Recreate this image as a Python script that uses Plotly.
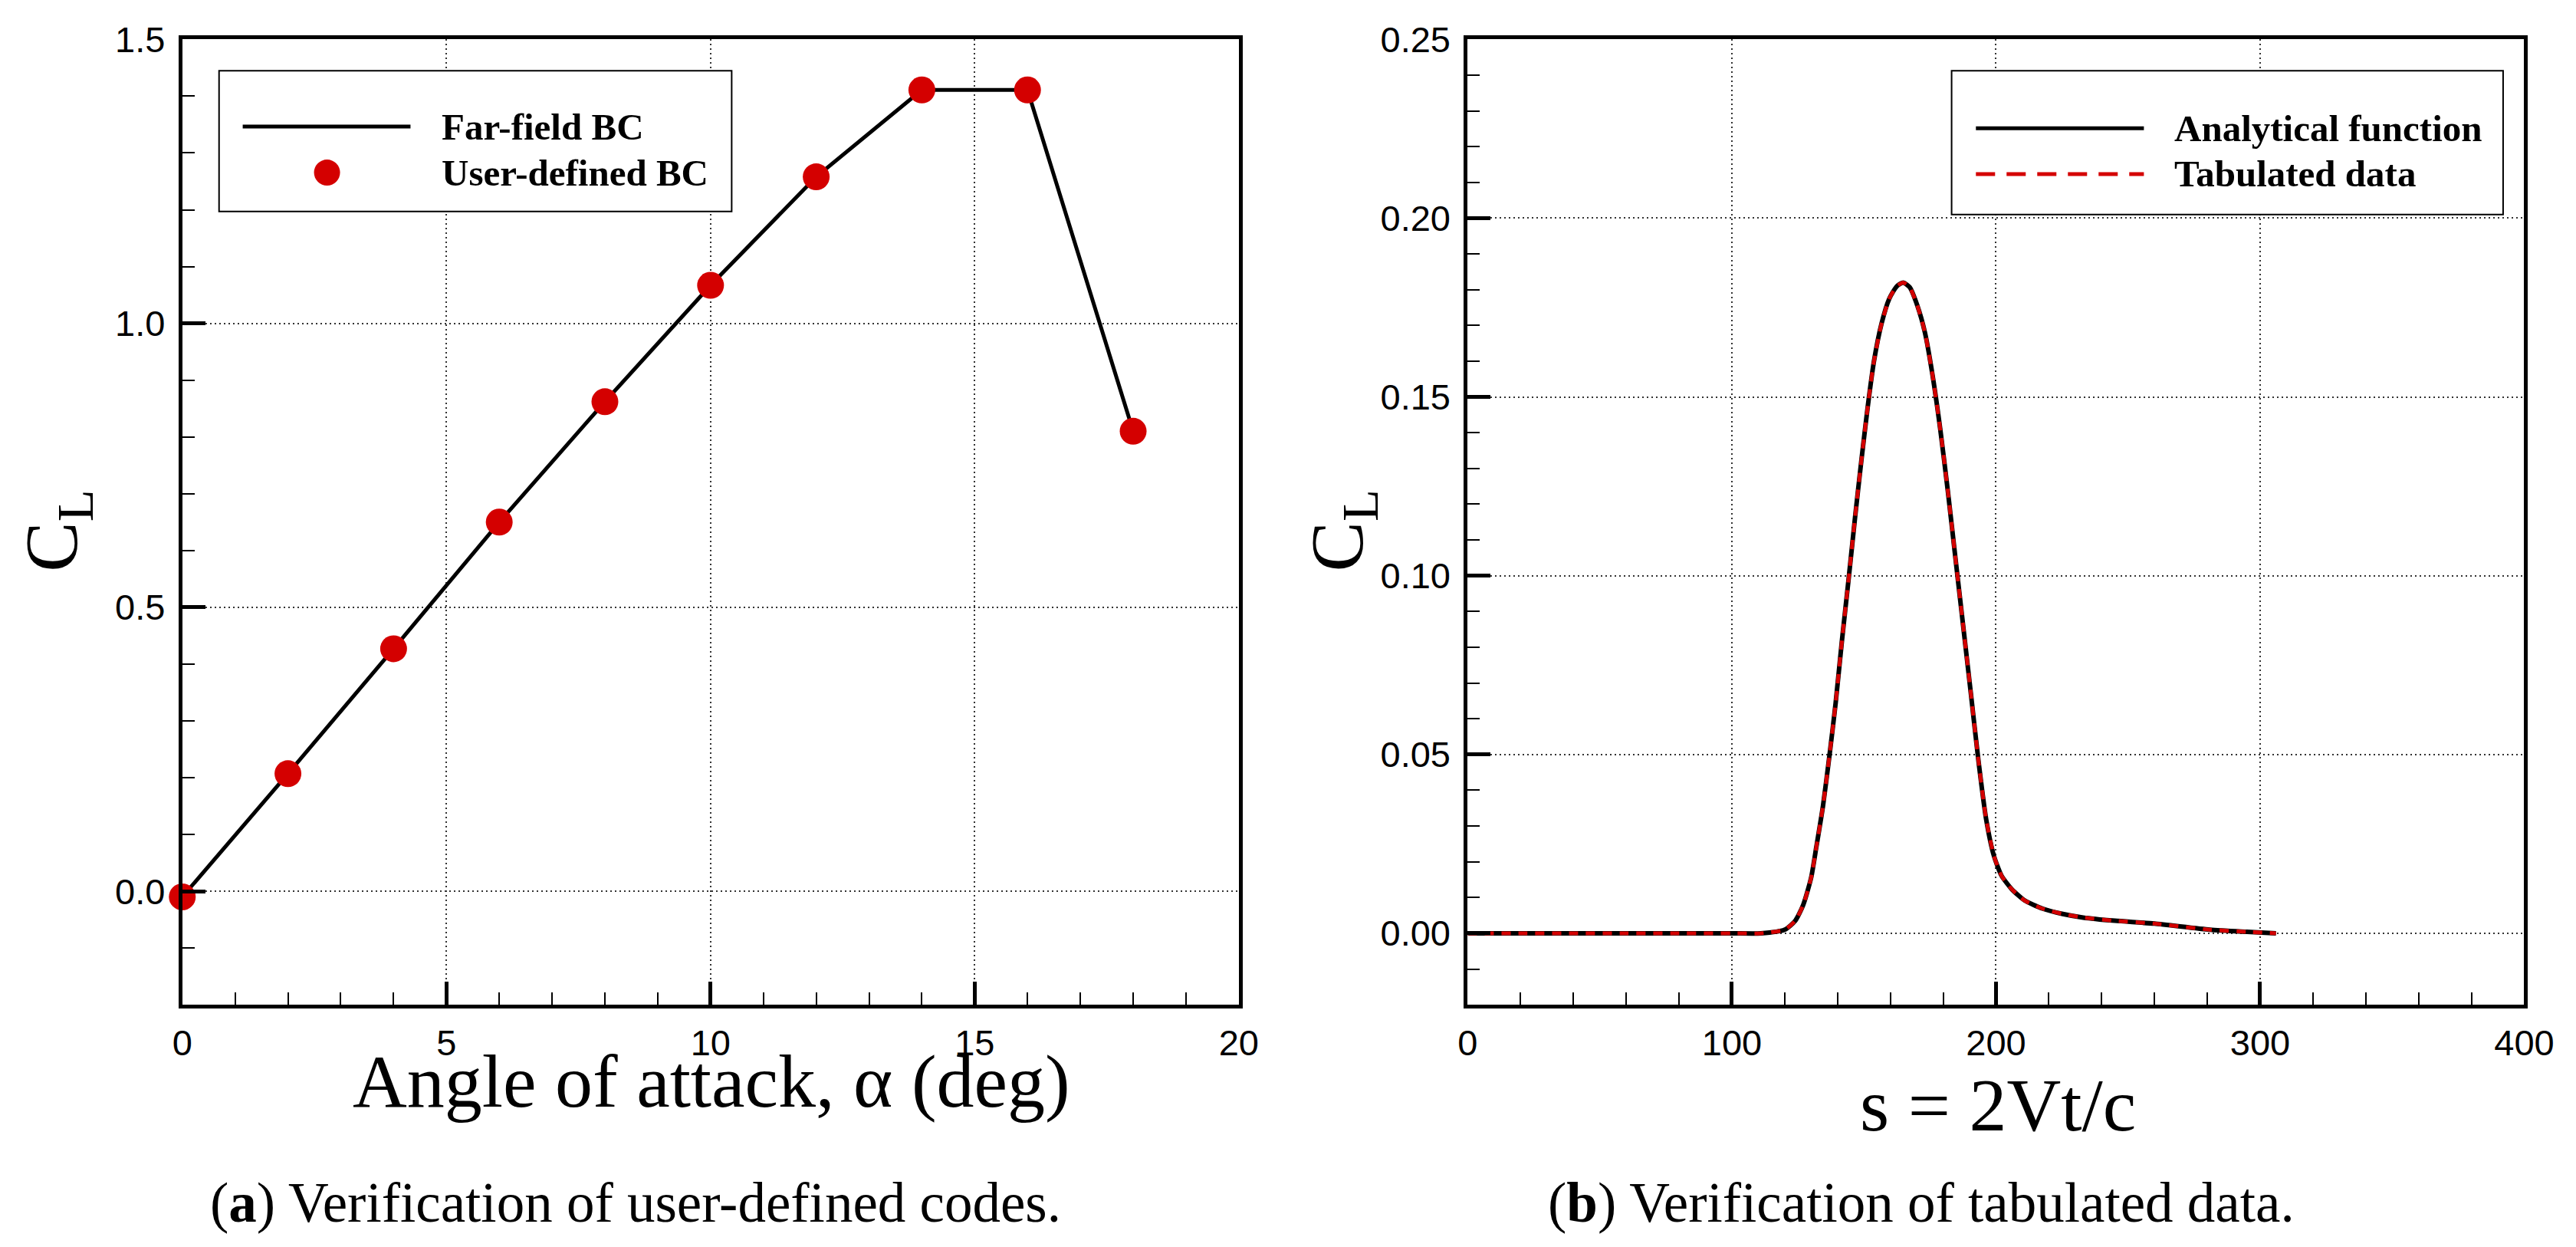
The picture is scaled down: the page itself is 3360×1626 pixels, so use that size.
import plotly.graph_objects as go
from plotly.subplots import make_subplots

# (a) lift coefficient vs angle of attack
alpha = [0, 2, 4, 6, 8, 10, 12, 14, 16, 18]
cl_alpha = [-0.01, 0.207, 0.427, 0.650, 0.862, 1.067, 1.258, 1.411, 1.411, 0.810]

# (b) lift response vs non-dimensional time
s_vals = [0, 20, 40, 60, 80, 100, 111, 120, 124, 127, 130, 132, 134.5, 137, 139.3,
          141.7, 144.2, 146.6, 149, 151.4, 153.8, 156.7, 159.6, 162.5, 164.9, 167.3,
          170.2, 173.1, 176, 178.9, 181.8, 184.7, 187.6, 190.5, 193.4, 196.3, 199.2,
          202.1, 206, 210.8, 217.6, 225.3, 233, 245, 260, 281, 295, 306]
cl_s = [0, 0, 0, 0, 0, 0, 0, 0.001, 0.0035, 0.0079, 0.0155, 0.0242, 0.0356, 0.050, 0.0644,
        0.082, 0.099, 0.116, 0.132, 0.147, 0.160, 0.1706, 0.1775, 0.181, 0.182, 0.1807,
        0.1756, 0.168, 0.156, 0.141, 0.1235, 0.1046, 0.0858, 0.067, 0.048, 0.0318, 0.0217,
        0.0161, 0.0123, 0.0092, 0.0069, 0.0054, 0.0044, 0.0035, 0.0027, 0.001, 0.0004, 0]

RED = "#D40000"
SERIF = "Liberation Serif, Times New Roman, serif"
SANS = "Liberation Sans, Arial, sans-serif"

W, H = 3360, 1626


# positions measured in pixels on the original figure; the rendered page comes
# out a little shrunk and shifted, so map them back
def fx(px):
    return (1.0143 * px - 19.2) / W


def fy(py):
    return 1 - (1.0143 * py - 30) / H


fig = make_subplots(rows=1, cols=2)

fig.add_trace(go.Scatter(x=alpha, y=cl_alpha, mode="lines", name="Far-field BC",
                         line=dict(color="black", width=5), showlegend=False), row=1, col=1)
fig.add_trace(go.Scatter(x=alpha, y=cl_alpha, mode="markers", name="User-defined BC",
                         marker=dict(color=RED, size=35), cliponaxis=False,
                         showlegend=False), row=1, col=1)

fig.add_trace(go.Scatter(x=s_vals, y=cl_s, mode="lines", name="Analytical function",
                         line=dict(color="black", width=6, shape="spline", smoothing=0.6),
                         showlegend=False), row=1, col=2)
fig.add_trace(go.Scatter(x=s_vals, y=cl_s, mode="lines", name="Tabulated data",
                         line=dict(color=RED, width=5, dash="12px,10px", shape="spline",
                                   smoothing=0.6),
                         showlegend=False), row=1, col=2)

# axes style, shared by both panels
axis_style = dict(
    showline=True, linewidth=5, linecolor="black", mirror=True,
    ticks="inside", ticklen=30, tickwidth=5, tickcolor="black",
    tickfont=dict(family=SANS, size=47, color="black"),
    showgrid=True, gridcolor="#333333", gridwidth=1.5, griddash="2px,4px",
    zeroline=False, ticklabeloverflow="allow",
)
minor_style = dict(ticks="inside", ticklen=16, tickwidth=2, tickcolor="black", showgrid=False)

fig.update_xaxes(axis_style, ticklabelstandoff=4)
fig.update_yaxes(axis_style, ticklabelstandoff=8)

y_dom = [fy(1308), fy(46)]
fig.update_xaxes(range=[0, 20], dtick=5, tick0=0, minor=dict(minor_style, dtick=1),
                 domain=[fx(236), fx(1616)], row=1, col=1)
fig.update_yaxes(range=[-0.2, 1.5], dtick=0.5, tick0=0, tickformat=".1f",
                 minor=dict(minor_style, dtick=0.1), domain=y_dom, row=1, col=1)
fig.update_xaxes(range=[0, 400], dtick=100, tick0=0, minor=dict(minor_style, dtick=20),
                 domain=[fx(1915), fx(3295)], row=1, col=2)
fig.update_yaxes(range=[-0.02, 0.25], dtick=0.05, tick0=0, tickformat=".2f",
                 minor=dict(minor_style, dtick=0.01), domain=y_dom, row=1, col=2)

# legends drawn by hand so the sample lines are as long as in the original
shapes = [
    dict(type="rect", xref="x domain", yref="y domain", x0=0.0348, x1=0.520, y0=0.8217, y1=0.9675,
         line=dict(color="black", width=2), fillcolor="white", layer="above"),
    dict(type="line", xref="x domain", yref="y domain", x0=0.0572, x1=0.216, y0=0.9097, y1=0.9097,
         line=dict(color="black", width=5), layer="above"),
    dict(type="circle", xref="x domain", yref="y domain", xsizemode="pixel", ysizemode="pixel",
         xanchor=0.137, yanchor=0.862, x0=-17, x1=17, y0=-17, y1=17,
         fillcolor=RED, line=dict(width=0), layer="above"),
    dict(type="rect", xref="x2 domain", yref="y2 domain", x0=0.458, x1=0.980, y0=0.8185, y1=0.9675,
         line=dict(color="black", width=2), fillcolor="white", layer="above"),
    dict(type="line", xref="x2 domain", yref="y2 domain", x0=0.481, x1=0.640, y0=0.908, y1=0.908,
         line=dict(color="black", width=5), layer="above"),
    dict(type="line", xref="x2 domain", yref="y2 domain", x0=0.481, x1=0.640, y0=0.8605, y1=0.8605,
         line=dict(color=RED, width=5, dash="25px,15px"), layer="above"),
]

legend_font = dict(family=SERIF, size=49, color="black")
title_font = dict(family=SERIF, size=98, color="black")
caption_font = dict(family=SERIF, size=73, color="black")
annotations = [
    dict(text="<b>Far-field BC</b>", xref="x domain", yref="y domain", x=0.244, y=0.9097,
         xanchor="left", yanchor="middle", showarrow=False, font=legend_font),
    dict(text="<b>User-defined BC</b>", xref="x domain", yref="y domain", x=0.244, y=0.862,
         xanchor="left", yanchor="middle", showarrow=False, font=legend_font),
    dict(text="<b>Analytical function</b>", xref="x2 domain", yref="y2 domain", x=0.667, y=0.908,
         xanchor="left", yanchor="middle", showarrow=False, font=legend_font),
    dict(text="<b>Tabulated data</b>", xref="x2 domain", yref="y2 domain", x=0.667, y=0.8605,
         xanchor="left", yanchor="middle", showarrow=False, font=legend_font),
    # axis titles
    dict(text="C<sub>L</sub>", xref="paper", yref="paper", x=fx(73), y=fy(688),
         xanchor="center", yanchor="middle", textangle=-90, showarrow=False, font=title_font),
    dict(text="C<sub>L</sub>", xref="paper", yref="paper", x=fx(1752), y=fy(688),
         xanchor="center", yanchor="middle", textangle=-90, showarrow=False, font=title_font),
    dict(text="Angle of attack, α (deg)", xref="paper", yref="paper", x=fx(927), y=fy(1408),
         xanchor="center", yanchor="middle", showarrow=False, font=title_font),
    dict(text="s = 2Vt/c", xref="paper", yref="paper", x=fx(2608), y=fy(1439),
         xanchor="center", yanchor="middle", showarrow=False, font=title_font),
    # sub-figure captions
    dict(text="(<b>a</b>) Verification of user-defined codes.", xref="paper", yref="paper",
         x=fx(828), y=fy(1567), xanchor="center", yanchor="middle",
         showarrow=False, font=caption_font),
    dict(text="(<b>b</b>) Verification of tabulated data.", xref="paper", yref="paper",
         x=fx(2507), y=fy(1567), xanchor="center", yanchor="middle",
         showarrow=False, font=caption_font),
]

fig.update_layout(
    width=W, height=H,
    margin=dict(l=0, r=0, t=0, b=0),
    paper_bgcolor="white", plot_bgcolor="white",
    showlegend=False,
    shapes=shapes, annotations=annotations,
)

fig.write_html("out.html")
